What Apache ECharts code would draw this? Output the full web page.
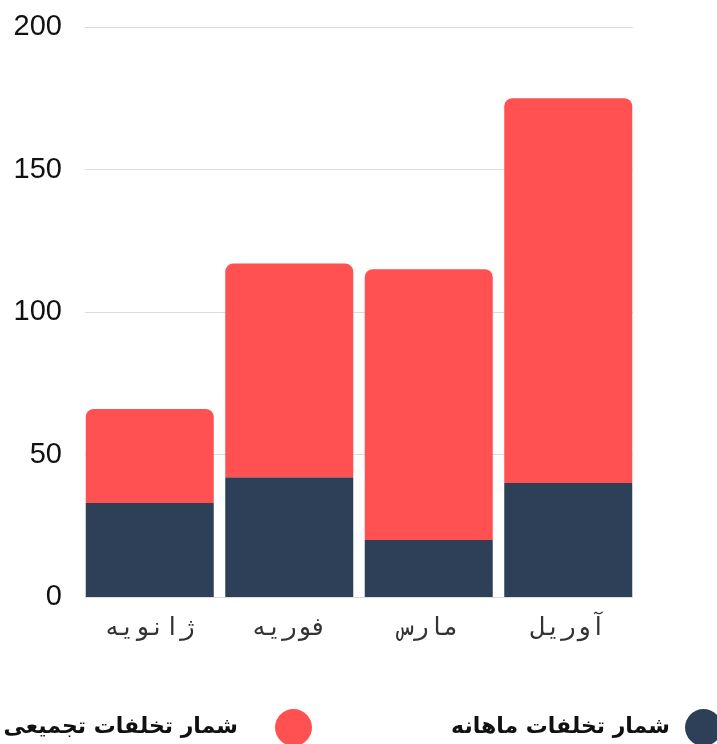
<!DOCTYPE html>
<html>
<head>
<meta charset="utf-8">
<script src="https://cdn.jsdelivr.net/npm/echarts@6/dist/echarts.min.js"></script>
<style>
html,body{margin:0;padding:0;background:#fff;}
#chart{width:717px;height:744px;}
</style>
</head>
<body>
<div id="chart"></div>
<script>
const categories = ['ژانویه', 'فوریه', 'مارس', 'آوریل'];
const monthlyName = 'شمار تخلفات ماهانه';
const cumulativeName = 'شمار تخلفات تجمیعی';
const monthlyValues = [33, 42, 20, 40];
const cumulativeValues = [33, 75, 95, 135];
const yTicks = { min: 0, max: 200, interval: 50 };

const chart = echarts.init(document.getElementById('chart'), null, { renderer: 'canvas' });
const gridTop = 27, gridBottom = 147;
chart.setOption({
  backgroundColor: '#ffffff',
  animation: false,
  grid: [
    { left: 80, right: 79, top: gridTop, bottom: gridBottom },
    { left: 85, right: 84, top: gridTop, bottom: gridBottom }
  ],
  xAxis: [
    {
      type: 'category', gridIndex: 0, data: categories,
      axisLine: { show: false }, axisTick: { show: false },
      axisLabel: { color: '#333', fontFamily: 'DejaVu Sans Mono', fontSize: 25, margin: 19 }
    },
    { type: 'category', gridIndex: 1, data: categories, show: false }
  ],
  yAxis: [
    { type: 'value', gridIndex: 0, min: yTicks.min, max: yTicks.max, interval: yTicks.interval, show: false, splitLine: { show: false } },
    {
      type: 'value', gridIndex: 1, min: yTicks.min, max: yTicks.max, interval: yTicks.interval,
      axisLine: { show: false }, axisTick: { show: false },
      axisLabel: { color: '#111', fontFamily: 'Liberation Sans', fontSize: 29, margin: 23 },
      splitLine: { show: true, lineStyle: { color: '#dcdcdc', width: 1 } }
    }
  ],
  legend: [
    {
      data: [cumulativeName], right: 405, top: 709, padding: 0, align: 'right', icon: 'circle',
      itemWidth: 37, itemHeight: 37, selectedMode: false,
      textStyle: { fontFamily: 'DejaVu Sans', fontWeight: 'bold', fontSize: 22, color: '#111', padding: [0, 32, 0, 0] }
    },
    {
      data: [monthlyName], right: -5, top: 709, padding: 0, align: 'right', icon: 'circle',
      itemWidth: 37, itemHeight: 37, selectedMode: false,
      textStyle: { fontFamily: 'DejaVu Sans', fontWeight: 'bold', fontSize: 22, color: '#111', padding: [0, 10, 0, 0] }
    }
  ],
  series: [
    {
      name: monthlyName, type: 'bar', stack: 'total', xAxisIndex: 0, yAxisIndex: 0,
      data: monthlyValues, barWidth: 128,
      itemStyle: { color: '#2E4057' }
    },
    {
      name: cumulativeName, type: 'bar', stack: 'total', xAxisIndex: 0, yAxisIndex: 0,
      data: cumulativeValues, barWidth: 128,
      itemStyle: { color: '#FF5151', borderRadius: [8, 8, 0, 0] }
    }
  ]
});
</script>
</body>
</html>
